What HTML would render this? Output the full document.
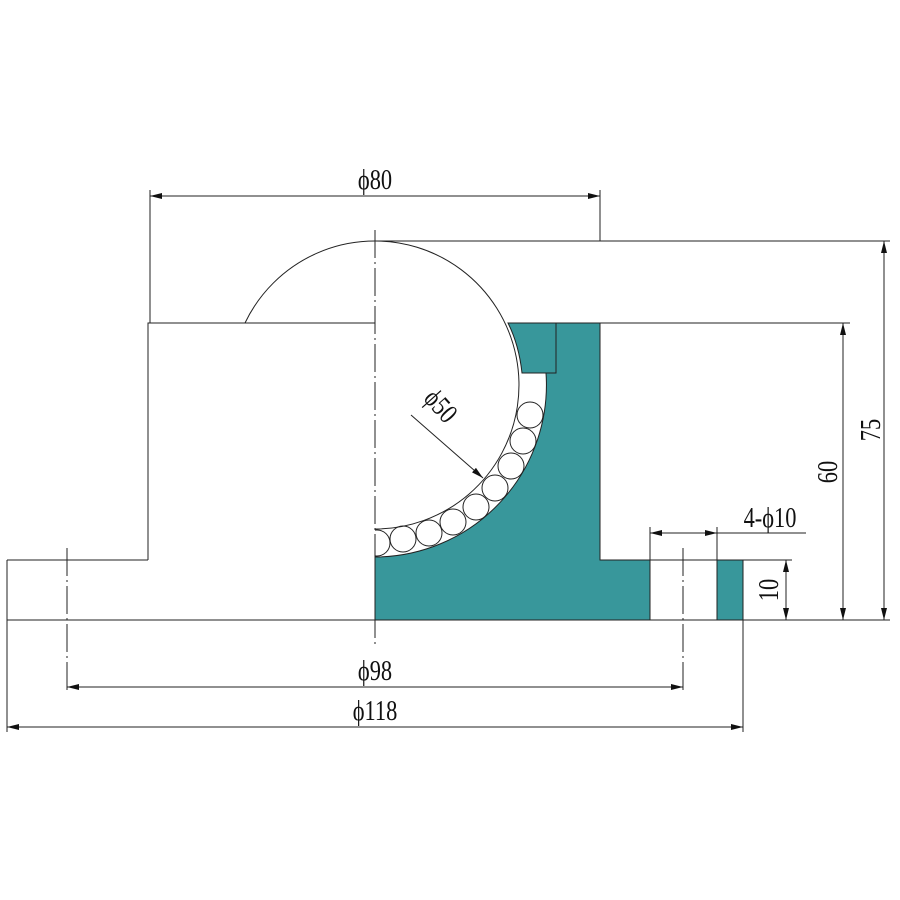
<!DOCTYPE html>
<html><head><style>body{margin:0;background:#fff}svg{display:block}
text{font-family:"Liberation Serif",serif;font-size:28px;fill:#111}</style></head><body>
<svg width="900" height="900" viewBox="0 0 900 900" xmlns="http://www.w3.org/2000/svg">
<defs>
<marker id="a" viewBox="0 0 12 6" refX="12" refY="3" markerWidth="12" markerHeight="6" orient="auto-start-reverse" markerUnits="userSpaceOnUse"><path d="M0,0L12,3L0,6z" fill="#111"/></marker>
<clipPath id="c"><rect x="375" y="0" width="400" height="900"/></clipPath>
</defs>
<g fill="#38979b" stroke="#222" stroke-width="1">
<path d="M375,620 L375,557 A172,172 0 0 0 546,373 L556,373 L556,323 L600,323 L600,560 L650,560 L650,620 Z"/>
<path d="M508,323 L556,323 L556,373 L522,373 Q519,345 508,323 Z"/>
<rect x="717" y="560" width="26" height="60"/>
</g>
<g fill="none" stroke="#222" stroke-width="1">
<path d="M245,323 A144,144 0 1 1 375,529"/>
<g clip-path="url(#c)">
<circle cx="377" cy="543" r="13"/><circle cx="403" cy="539" r="13"/><circle cx="429" cy="533" r="13"/><circle cx="453" cy="522" r="13"/><circle cx="476" cy="507" r="13"/><circle cx="495" cy="488" r="13"/><circle cx="511" cy="466" r="13"/><circle cx="523" cy="441" r="13"/><circle cx="530" cy="415" r="13"/>
</g>
<path d="M148,560 V323 H375 M7,560 H148 M7,560 V732 M600,241 V190 M150,323 V190"/>
<path d="M375,241 H890 M600,323 H850 M7,620 H890 M650,560 H792 M743,620 V732 M650,527 V620 M717,527 V620"/>
<path d="M375,230 V645" stroke-dasharray="28,4,2,4"/>
<path d="M67,548 V692 M683,548 V692" stroke-dasharray="28,4,2,4"/>
<path d="M150,196 H600" marker-start="url(#a)" marker-end="url(#a)"/>
<path d="M843,323 V620" marker-start="url(#a)" marker-end="url(#a)"/>
<path d="M884,241 V620" marker-start="url(#a)" marker-end="url(#a)"/>
<path d="M786,560 V620" marker-start="url(#a)" marker-end="url(#a)"/>
<path d="M67,687 H683" marker-start="url(#a)" marker-end="url(#a)"/>
<path d="M7,727 H743" marker-start="url(#a)" marker-end="url(#a)"/>
<path d="M650,533 H717" marker-start="url(#a)" marker-end="url(#a)"/>
<path d="M717,533 H806"/>
<path d="M411,415 L483,478" marker-end="url(#a)"/>
</g>
<g text-anchor="middle">
<text transform="translate(375,189) scale(0.8,1)">ϕ80</text>
<text transform="translate(375,680) scale(0.8,1)">ϕ98</text>
<text transform="translate(375,720) scale(0.8,1)">ϕ118</text>
<text transform="translate(770,527) scale(0.8,1)">4-ϕ10</text>
<text transform="translate(837,472) rotate(-90) scale(0.8,1)">60</text>
<text transform="translate(880,430) rotate(-90) scale(0.8,1)">75</text>
<text transform="translate(778,590) rotate(-90) scale(0.8,1)">10</text>
<text transform="translate(434,412) rotate(48) scale(0.8,1)">ϕ50</text>
</g>
</svg>
</body></html>
